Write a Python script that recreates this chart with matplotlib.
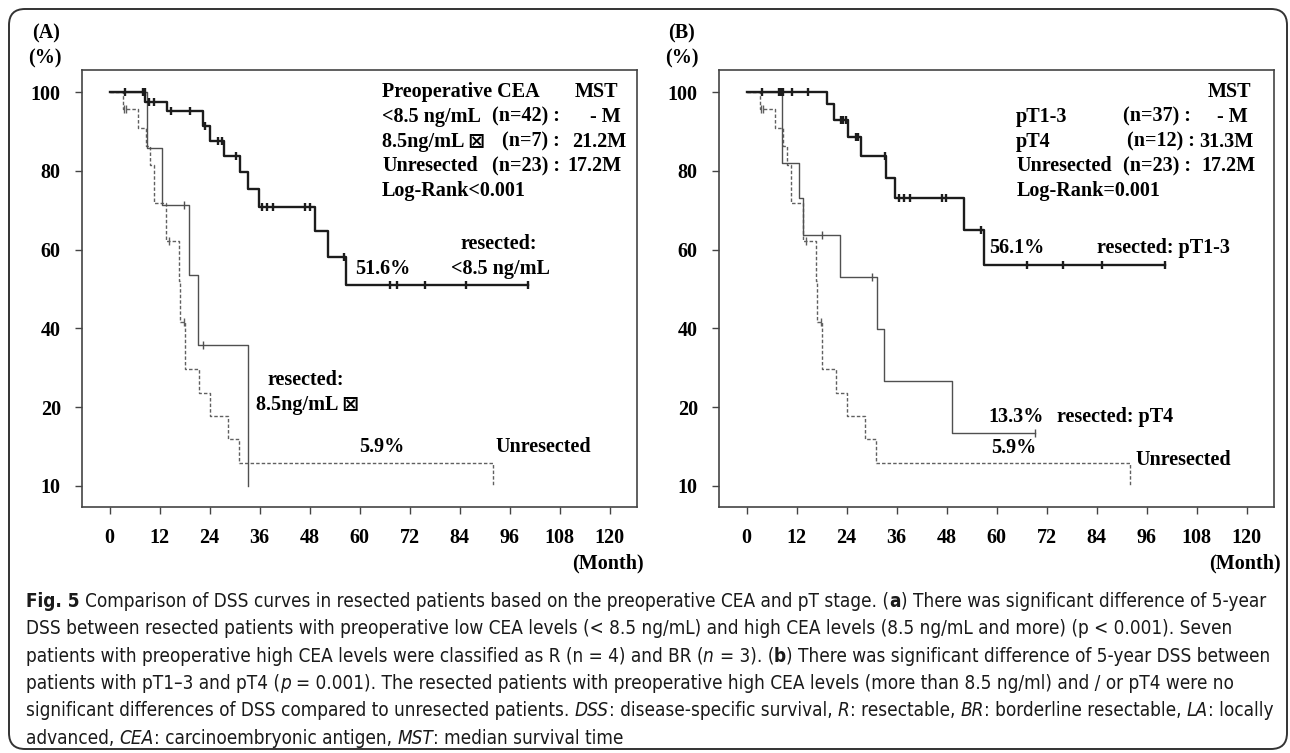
import numpy as np
import matplotlib
matplotlib.use("Agg")
import matplotlib.pyplot as plt
from matplotlib.patches import FancyBboxPatch
from matplotlib.transforms import IdentityTransform
from matplotlib import font_manager
from matplotlib.font_manager import FontProperties

# ---------------- data ----------------
# Unresected patients (same curve in both panels)
unres_t = [0, 3.1, 6.7, 8.7, 9.6, 10.7, 13.6, 16.6, 17.0, 18.2, 21.5, 24.0, 28.3, 31.0, 91.9]
unres_s = [100, 95.7, 90.9, 86.2, 81.5, 71.7, 62.2, 51.9, 41.7, 29.6, 23.7, 17.8, 11.8, 5.9, 0]
unres_cens = [3.4, 4.0, 14.2, 17.8]

# (A) preoperative CEA < 8.5
cea_low_t = [0, 8.6, 13.8, 22.5, 24.1, 27.4, 31.4, 33.1, 35.9, 49.3, 52.3, 56.8, 100.3]
cea_low_s = [100, 97.6, 95.1, 91.4, 87.6, 83.8, 79.6, 75.3, 70.8, 64.7, 58.0, 51.0, 51.0]
cea_low_cens = [3.8, 8.0, 8.4, 9.4, 10.7, 14.7, 19.2, 23.0, 26.1, 26.9, 30.4, 36.6, 37.8,
                39.1, 46.8, 48.1, 56.3, 67.2, 69.0, 75.7, 85.5, 100.3]
# (A) preoperative CEA >= 8.5
cea_high_t = [0, 9.0, 12.6, 19.0, 21.2, 33.1]
cea_high_s = [100, 85.7, 71.4, 53.6, 35.7, 0]
cea_high_cens = [17.9, 22.4]

# (B) pT1-3
pt13_t = [0, 19.2, 21.0, 24.4, 27.4, 33.4, 35.6, 52.1, 57.0, 100.5]
pt13_s = [100, 96.9, 92.9, 88.6, 83.7, 78.3, 73.1, 64.9, 56.1, 56.1]
pt13_cens = [3.6, 7.8, 8.2, 8.7, 10.8, 14.8, 22.6, 23.2, 23.8, 26.2, 26.7, 33.1, 36.5,
             37.8, 39.3, 46.9, 47.9, 56.3, 67.2, 75.9, 85.4, 100.5]
# (B) pT4
pt4_t = [0, 8.6, 12.6, 13.6, 22.4, 31.3, 32.9, 49.4, 69.1]
pt4_s = [100, 81.9, 73.0, 63.7, 53.1, 39.8, 26.5, 13.3, 13.3]
pt4_cens = [18.0, 30.1, 69.1]

xticks = np.arange(0, 121, 12)
yticks = [100, 80, 60, 40, 20, 0]
yticklabels = ['100', '80', '60', '40', '20', '10']

plt.rcParams['font.family'] = ['Liberation Serif', 'DejaVu Sans']
plt.rcParams['font.weight'] = 'bold'
plt.rcParams['font.size'] = 14.5

# caption font: a narrow sans if one is installed
names = {f.name for f in font_manager.fontManager.ttflist}
cap_family, cap_stretch = 'Liberation Sans', 'normal'
if 'Liberation Sans Narrow' in names:
    cap_family = 'Liberation Sans Narrow'
elif any(f.name == 'DejaVu Sans' and f.stretch == 'condensed' for f in font_manager.fontManager.ttflist):
    cap_family, cap_stretch = 'DejaVu Sans', 'condensed'
elif 'Roboto Condensed' in names:
    cap_family = 'Roboto Condensed'

W, H = 1290, 753
fig = plt.figure(figsize=(W / 100, H / 100), dpi=100)


def step_at(t, times, surv):
    idx = np.searchsorted(times, t, side='right') - 1
    return np.asarray(surv)[idx]


def km(ax, times, surv, cens, style):
    ax.step(times, surv, where='post', **style)
    cv = [step_at(c, times, surv) for c in cens]
    ax.plot(cens, cv, ls='none', marker='|', ms=6, mew=style['lw'], color=style['color'])


thick = dict(color='#1c1c1c', lw=1.7)
thin = dict(color='#505050', lw=1.0)
dash = dict(color='#606060', lw=1.0, ls=(0, (2.5, 1.5)))


def setup(ax):
    ax.set_xlim(-6.7, 126.5)
    ax.set_ylim(-5.3, 105.6)
    ax.set_xticks(xticks)
    ax.set_xticklabels([str(v) for v in xticks])
    ax.set_yticks(yticks)
    ax.set_yticklabels(yticklabels)
    ax.tick_params(direction='out', length=5, width=1.0, color='#444444', pad=10)
    for sp in ax.spines.values():
        sp.set_color('#444444')
        sp.set_linewidth(1.2)


# ---------------- panel A ----------------
axA = fig.add_axes([81.7 / W, 1 - 506.7 / H, 555 / W, 436.7 / H])
setup(axA)
km(axA, unres_t, unres_s, unres_cens, dash)
km(axA, cea_high_t, cea_high_s, cea_high_cens, thin)
km(axA, cea_low_t, cea_low_s, cea_low_cens, thick)

axA.text(65.4, 100, 'Preoperative CEA', va='center')
axA.text(122.1, 100, 'MST', va='center', ha='right')
axA.text(65.4, 93.7, '<8.5 ng/mL', va='center')
axA.text(108, 93.7, '(n=42) :', va='center', ha='right')
axA.text(122.6, 93.7, '- M', va='center', ha='right')
axA.text(65.4, 87.4, '8.5ng/mL \u22a0', va='center')
axA.text(108, 87.4, '(n=7) :', va='center', ha='right')
axA.text(124, 87.4, '21.2M', va='center', ha='right')
axA.text(65.4, 81.2, 'Unresected', va='center')
axA.text(108, 81.2, '(n=23) :', va='center', ha='right')
axA.text(122.8, 81.2, '17.2M', va='center', ha='right')
axA.text(65.4, 74.9, 'Log-Rank<0.001', va='center')

axA.text(59.0, 55.0, '51.6%', va='center')
axA.text(93.3, 61.4, 'resected:', va='center', ha='center')
axA.text(93.8, 55.0, '<8.5 ng/mL', va='center', ha='center')
axA.text(47.1, 26.8, 'resected:', va='center', ha='center')
axA.text(47.4, 20.4, '8.5ng/mL \u22a0', va='center', ha='center')
axA.text(65.2, 9.9, '5.9%', va='center', ha='center')
axA.text(104.1, 9.9, 'Unresected', va='center', ha='center')
axA.text(119.5, -19.6, '(Month)', va='center', ha='center')

# ---------------- panel B ----------------
axB = fig.add_axes([718.7 / W, 1 - 506.7 / H, 555 / W, 436.7 / H])
setup(axB)
km(axB, unres_t, unres_s, unres_cens, dash)
km(axB, pt4_t, pt4_s, pt4_cens, thin)
km(axB, pt13_t, pt13_s, pt13_cens, thick)

axB.text(121.0, 100, 'MST', va='center', ha='right')
axB.text(64.7, 93.7, 'pT1-3', va='center')
axB.text(106.6, 93.7, '(n=37) :', va='center', ha='right')
axB.text(120.3, 93.7, '- M', va='center', ha='right')
axB.text(64.7, 87.4, 'pT4', va='center')
axB.text(107.7, 87.4, '(n=12) :', va='center', ha='right')
axB.text(121.7, 87.4, '31.3M', va='center', ha='right')
axB.text(64.7, 81.2, 'Unresected', va='center')
axB.text(106.7, 81.2, '(n=23) :', va='center', ha='right')
axB.text(122.2, 81.2, '17.2M', va='center', ha='right')
axB.text(64.7, 74.9, 'Log-Rank=0.001', va='center')

axB.text(58.1, 60.3, '56.1%', va='center')
axB.text(84.2, 60.3, 'resected: pT1-3', va='center')
axB.text(58.1, 17.5, '13.3%', va='center')
axB.text(74.6, 17.5, 'resected: pT4', va='center')
axB.text(64.2, 9.5, '5.9%', va='center', ha='center')
axB.text(93.3, 6.5, 'Unresected', va='center')
axB.text(119.5, -19.6, '(Month)', va='center', ha='center')

# panel letters
fig.text(46 / W, 1 - 33 / H, '(A)', ha='center', va='center')
fig.text(45 / W, 1 - 58 / H, '(%)', ha='center', va='center')
fig.text(681.5 / W, 1 - 33 / H, '(B)', ha='center', va='center')
fig.text(682 / W, 1 - 58 / H, '(%)', ha='center', va='center')

# ---------------- caption (mixed styles, drawn piece by piece) ----------------
cap_lines = [
    [('Fig. 5 ', 'b'), ('Comparison of DSS curves in resected patients based on the preoperative CEA and pT stage. (', 'n'),
     ('a', 'b'), (') There was significant difference of 5-year', 'n')],
    [('DSS between resected patients with preoperative low CEA levels (< 8.5 ng/mL) and high CEA levels (8.5 ng/mL and more) (p < 0.001). Seven', 'n')],
    [('patients with preoperative high CEA levels were classified as R (n = 4) and BR (', 'n'), ('n ', 'i'),
     ('= 3). (', 'n'), ('b', 'b'), (') There was significant difference of 5-year DSS between', 'n')],
    [('patients with pT1\u20133 and pT4 (', 'n'), ('p ', 'i'),
     ('= 0.001). The resected patients with preoperative high CEA levels (more than 8.5 ng/ml) and / or pT4 were no', 'n')],
    [('significant differences of DSS compared to unresected patients. ', 'n'), ('DSS', 'i'),
     (': disease-specific survival, ', 'n'), ('R', 'i'), (': resectable, ', 'n'), ('BR', 'i'),
     (': borderline resectable, ', 'n'), ('LA', 'i'), (': locally', 'n')],
    [('advanced, ', 'n'), ('CEA', 'i'), (': carcinoembryonic antigen, ', 'n'), ('MST', 'i'),
     (': median survival time', 'n')],
]


def cap_prop(sty, size):
    return FontProperties(family=cap_family, stretch=cap_stretch, size=size,
                          weight='bold' if sty == 'b' else 'normal',
                          style='italic' if sty == 'i' else 'normal')


renderer = fig.canvas.get_renderer()


def advance(s, prop):
    w1 = renderer.get_text_width_height_descent(s + 'l', prop, ismath=False)[0]
    w0 = renderer.get_text_width_height_descent('l', prop, ismath=False)[0]
    return w1 - w0


base = 14.0
w_first = sum(advance(s, cap_prop(st, base)) for s, st in cap_lines[0])
fs = base * 1252.0 / w_first

for i, line in enumerate(cap_lines):
    x = 26.0
    y = 1 - (607.0 + i * 27.3) / H
    for s, st in line:
        prop = cap_prop(st, fs)
        fig.text(x / W, y, s, ha='left', va='baseline', fontproperties=prop, color='#1a1a1a')
        x += advance(s, prop)

# rounded outer frame
frame = FancyBboxPatch((9, 4), 1278, 740, boxstyle='round,pad=0,rounding_size=16',
                       transform=IdentityTransform(), fill=False, ec='#333333', lw=1.4)
fig.patches.append(frame)

fig.savefig('out.png', dpi=100)
